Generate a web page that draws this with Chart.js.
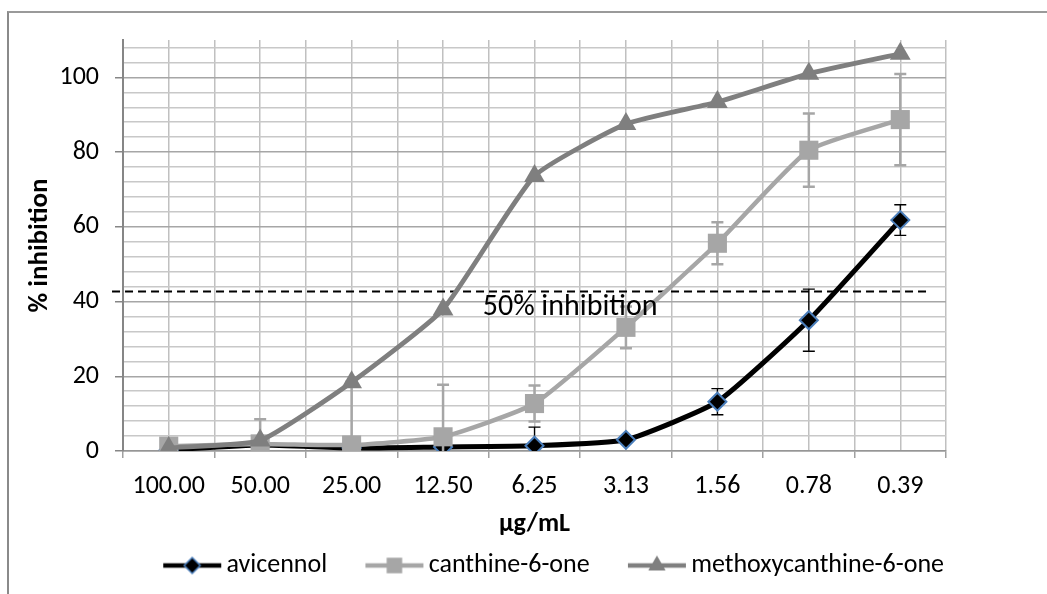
<!DOCTYPE html>
<html>
<head>
<meta charset="utf-8">
<script src="https://cdn.jsdelivr.net/npm/chart.js@4.4.0/dist/chart.umd.min.js"></script>
<style>
  html, body { margin: 0; padding: 0; background: #fff; }
  #wrap { position: relative; width: 1047px; height: 594px; overflow: hidden; }
  #frame { position: absolute; left: 7px; top: 11px; width: 1100px; height: 700px;
           border-left: 2px solid #8a8a8a; border-top: 2px solid #9a9a9a; pointer-events: none; }
</style>
</head>
<body>
<div id="wrap">
  <canvas id="inhibitionChart" width="1047" height="594"></canvas>
  <div id="frame"></div>
</div>
<script>
// concentrations on the x axis (category order)
var concentrations = ["100.00", "50.00", "25.00", "12.50", "6.25", "3.13", "1.56", "0.78", "0.39"];

// % inhibition per compound
var avicennol = [0.3, 1.6, 0.8, 1.1, 1.4, 3.0, 13.2, 35.0, 61.8];
var avicennolErr = [0, 0, 0, 0, 5, 0.5, 3.5, 8.3, 4.1];

var canthine = [1.3, 1.9, 1.6, 3.8, 12.7, 33.1, 55.6, 80.5, 88.7];
var canthineErr = [0, 6.6, 17, 13.9, 4.8, 5.6, 5.6, 9.8, 12.2];

var methoxycanthine = [0.8, 2.8, 18.4, 37.9, 73.6, 87.5, 93.4, 101.0, 106.3];

// y axis labelled ticks
var yTickLabels = [0, 20, 40, 60, 80, 100];

// dashed reference line and its caption
var thresholdValue = 42.7;
var thresholdSpan = [-0.62, 8.31];
var thresholdText = "50% inhibition";
var thresholdTextAt = [4.39, 38.4];

var FONT = "Carlito, Lato, 'Open Sans', sans-serif";
var LEGEND_PAD = 20;

function points(values) {
    return values.map(function (v, i) {
        return { x: i, y: v };
    });
}

// legend swatch: a short line with the marker, drawn off-centre so the
// text sits close to it while items keep wide gaps
function legendIcon(color, style, radius, border, borderWidth) {
    var c = document.createElement("canvas");
    c.width = 86;
    c.height = 26;
    var g = c.getContext("2d");
    g.strokeStyle = color;
    g.lineWidth = 4.5;
    g.beginPath();
    g.moveTo(27, 13);
    g.lineTo(85, 13);
    g.stroke();
    g.fillStyle = color;
    g.strokeStyle = border;
    g.lineWidth = borderWidth;
    Chart.helpers.drawPoint(g, { pointStyle: style, radius: radius, borderWidth: borderWidth, rotation: 0 }, 56, 13);
    return c;
}

var icons = [
    legendIcon("#000000", "rectRot", 8, "#4a7ebb", 1.5),
    legendIcon("#a6a6a6", "rect", 11, "#a6a6a6", 0),
    legendIcon("#7f7f7f", "triangle", 10, "#7f7f7f", 0),
];

// vertical error bars, drawn just under each series
var errorBars = {
    id: "errorBars",
    beforeDatasetDraw: function (chart, args) {
        var ds = chart.data.datasets[args.index];
        if (!ds.errors) return;
        var xs = chart.scales.x;
        var ys = chart.scales.y;
        var ctx = chart.ctx;
        var area = chart.chartArea;
        ctx.save();
        ctx.beginPath();
        ctx.rect(area.left, area.top - 20, area.right - area.left, area.bottom - area.top + 20);
        ctx.clip();
        ctx.strokeStyle = ds.errorColor;
        ctx.lineWidth = ds.errorWidth;
        ds.data.forEach(function (pt, i) {
            var e = ds.errors[i];
            if (!e) return;
            var x = xs.getPixelForValue(pt.x);
            var top = ys.getPixelForValue(pt.y + e);
            var bot = ys.getPixelForValue(pt.y - e);
            ctx.beginPath();
            ctx.moveTo(x, top);
            ctx.lineTo(x, bot);
            ctx.moveTo(x - 6, top);
            ctx.lineTo(x + 6, top);
            ctx.moveTo(x - 6, bot);
            ctx.lineTo(x + 6, bot);
            ctx.stroke();
        });
        ctx.restore();
    },
};

var thresholdCaption = {
    id: "thresholdCaption",
    afterDatasetsDraw: function (chart) {
        var ctx = chart.ctx;
        ctx.save();
        ctx.font = "30px " + FONT;
        ctx.fillStyle = "#000";
        ctx.textAlign = "center";
        ctx.textBaseline = "middle";
        ctx.fillText(thresholdText,
            chart.scales.x.getPixelForValue(thresholdTextAt[0]),
            chart.scales.y.getPixelForValue(thresholdTextAt[1]));
        ctx.restore();
    },
};

// move the legend row so it starts just right of the plot's left edge
var legendNudge = {
    id: "legendNudge",
    afterLayout: function (chart) {
        var lg = chart.legend;
        var start = (lg.left + LEGEND_PAD + lg.right - lg.lineWidths[0]) / 2;
        var dx = chart.chartArea.left + 22 - start;
        lg.left += dx;
        lg.right += dx;
    },
};

var ctx = document.getElementById("inhibitionChart").getContext("2d");

new Chart(ctx, {
    type: "line",
    data: {
        datasets: [
            {
                label: "avicennol",
                data: points(avicennol),
                errors: avicennolErr,
                errorColor: "#000000",
                errorWidth: 1.3,
                borderColor: "#000000",
                borderWidth: 5,
                backgroundColor: "#000000",
                pointStyle: "rectRot",
                pointRadius: 9,
                pointBorderColor: "#4a7ebb",
                pointBorderWidth: 2,
                pointBackgroundColor: "#000000",
                tension: 0.16,
                order: 3,
            },
            {
                label: "canthine-6-one",
                data: points(canthine),
                errors: canthineErr,
                errorColor: "#a6a6a6",
                errorWidth: 2.5,
                borderColor: "#a6a6a6",
                borderWidth: 4.5,
                backgroundColor: "#a6a6a6",
                pointStyle: "rect",
                pointRadius: 13.5,
                pointBorderWidth: 0,
                pointBackgroundColor: "#a6a6a6",
                tension: 0.16,
                order: 2,
            },
            {
                label: "methoxycanthine-6-one",
                data: points(methoxycanthine),
                borderColor: "#7f7f7f",
                borderWidth: 4.8,
                backgroundColor: "#7f7f7f",
                pointStyle: "triangle",
                pointRadius: 12,
                pointBorderWidth: 0,
                pointBackgroundColor: "#7f7f7f",
                tension: 0.16,
                order: 1,
            },
            {
                label: "threshold",
                data: [
                    { x: thresholdSpan[0], y: thresholdValue },
                    { x: thresholdSpan[1], y: thresholdValue },
                ],
                borderColor: "#000000",
                borderWidth: 2,
                borderDash: [8, 5],
                pointRadius: 0,
                tension: 0,
                clip: false,
                order: 4,
            },
        ],
    },
    options: {
        responsive: false,
        animation: false,
        events: [],
        layout: {
            padding: { left: 8, right: 101, top: 40, bottom: 5.5 },
        },
        scales: {
            x: {
                type: "linear",
                min: -0.5,
                max: 8.5,
                afterFit: function (scale) {
                    scale.height = 81.5;
                },
                ticks: {
                    stepSize: 0.5,
                    maxTicksLimit: 40,
                    autoSkip: false,
                    maxRotation: 0,
                    padding: 13,
                    color: "#000",
                    font: { family: FONT, size: 26 },
                    callback: function (value) {
                        return Number.isInteger(value) ? concentrations[value] : "";
                    },
                },
                grid: {
                    color: "#c0c0c0",
                    lineWidth: 1.5,
                    tickLength: 7,
                    tickColor: function (c) {
                        return Number.isInteger(c.tick.value) ? "rgba(0,0,0,0)" : "#a0a0a0";
                    },
                },
                border: { color: "#969696", width: 1.5 },
                title: {
                    display: true,
                    text: "µg/mL",
                    color: "#000",
                    padding: { top: 0, bottom: -8 },
                    font: { family: FONT, size: 26, weight: "bold" },
                },
            },
            y: {
                min: 0,
                max: 110,
                afterFit: function (scale) {
                    scale.width = 115;
                },
                ticks: {
                    stepSize: 4,
                    maxTicksLimit: 40,
                    autoSkip: false,
                    includeBounds: false,
                    padding: 16,
                    color: "#000",
                    font: { family: FONT, size: 26 },
                    callback: function (value) {
                        return yTickLabels.indexOf(value) >= 0 ? value : "";
                    },
                },
                grid: {
                    lineWidth: 1.5,
                    tickLength: 8,
                    color: function (c) {
                        return yTickLabels.indexOf(c.tick.value) >= 0 ? "#a6a6a6" : "#c8c8c8";
                    },
                    tickColor: function (c) {
                        return yTickLabels.indexOf(c.tick.value) >= 0 ? "#868686" : "rgba(0,0,0,0)";
                    },
                },
                border: { color: "#868686", width: 2 },
                title: {
                    display: true,
                    text: "% inhibition",
                    color: "#000",
                    padding: { top: 16, bottom: 4 },
                    font: { family: FONT, size: 27, weight: "bold" },
                },
            },
        },
        plugins: {
            tooltip: { enabled: false },
            legend: {
                position: "bottom",
                labels: {
                    usePointStyle: true,
                    pointStyleWidth: 68.5,
                    padding: LEGEND_PAD,
                    color: "#000",
                    font: { family: FONT, size: 26 },
                    generateLabels: function (chart) {
                        var items = Chart.defaults.plugins.legend.labels.generateLabels(chart);
                        items.forEach(function (item) {
                            item.pointStyle = icons[item.datasetIndex];
                        });
                        return items;
                    },
                    filter: function (item) {
                        return item.datasetIndex < 3;
                    },
                    sort: function (a, b) {
                        return a.datasetIndex - b.datasetIndex;
                    },
                },
            },
        },
    },
    plugins: [errorBars, thresholdCaption, legendNudge],
});
</script>
</body>
</html>
